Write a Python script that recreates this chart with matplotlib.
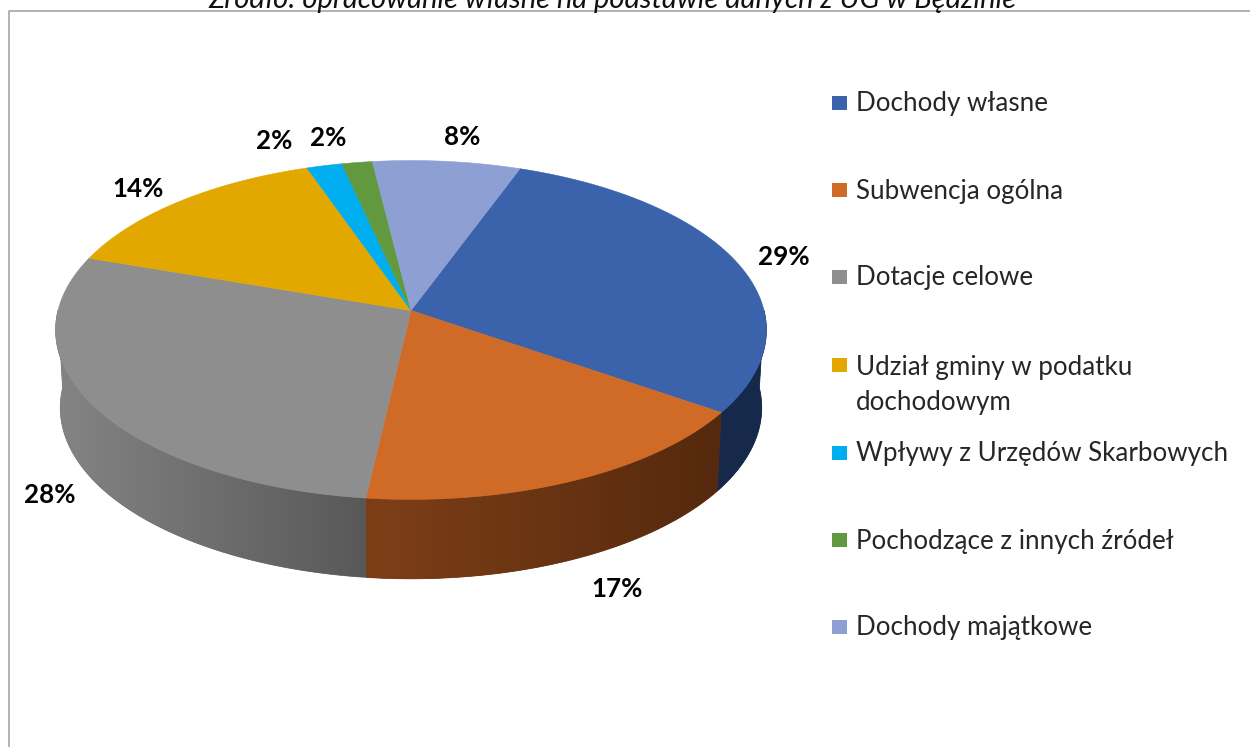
# ----------------------------------------
# 3D pie chart: budget income structure (Polish labels)
# ----------------------------------------
import numpy as np
import matplotlib
matplotlib.use("Agg")
import matplotlib.pyplot as plt
from matplotlib.colors import LinearSegmentedColormap
from matplotlib.patches import Polygon, Rectangle

plt.rcParams["font.family"] = ["Lato", "DejaVu Sans"]

# ----------------------------------------
# 1. Data
# ----------------------------------------
categories = [
    "Dochody własne",
    "Subwencja ogólna",
    "Dotacje celowe",
    "Udział gminy w podatku\ndochodowym",
    "Wpływy z Urzędów Skarbowych",
    "Pochodzące z innych źródeł",
    "Dochody majątkowe",
]
# unrounded shares estimated from the slice boundaries
values = [29.1, 17.15, 28.45, 14.45, 1.8, 1.55, 7.5]

# ----------------------------------------
# 2. Styles and layout (pixel coordinates)
# ----------------------------------------
top_colors = ["#3A63AB", "#CF6B27", "#8E8E8E", "#E2A800", "#00AEEF", "#62993E", "#8E9FD3"]
# only the three front slices show a wall
wall_left = {0: "#16294B", 1: "#7E3F17", 2: "#848484"}
wall_right = {0: "#16294B", 1: "#55290E", 2: "#585858"}

title = "Źródło: opracowanie własne na podstawie danych z UG w Będzinie"
label_xy = [(784, 257), (617, 589), (50, 495), (138, 189), (274, 141), (328, 138), (462, 137)]
legend_y = [104, 191, 278, 385, 454, 541, 628]

start_angle = 20.0   # clockwise from the top
apex_x, apex_y = 411, 310.5
persp = 0.115
scale_x, scale_y = 353, 167.2


def rim(angle_deg, sx=1.0, sy=1.0, y0=apex_y):
    # circle seen in perspective, angle runs clockwise from the top
    t = np.radians(angle_deg)
    x, d = np.sin(t), -np.cos(t)
    w = 1 - persp * d
    return apex_x + sx * scale_x * x / w, y0 + sy * scale_y * d / w


fig = plt.figure(figsize=(12.5, 7.47), dpi=100)
ax = fig.add_axes([0, 0, 1, 1])

# ----------------------------------------
# 3. Side walls, front half of the rim only
# ----------------------------------------
edges = start_angle + np.cumsum([0] + values) * 3.6
for i in [0, 2, 1]:
    a = np.linspace(max(edges[i], 90), min(edges[i + 1], 270), 120)
    tx, ty = rim(a)
    bx, by = rim(a, 0.987, 1.01, 388)
    pts = np.vstack([np.column_stack([tx, ty]), np.column_stack([bx, by])[::-1]])
    cmap = LinearSegmentedColormap.from_list("wall", [wall_left[i], wall_right[i]])
    # solid polygon underneath keeps the edge smooth, gradient goes on top
    ax.add_patch(Polygon(pts, closed=True, fc=cmap(0.5), ec=cmap(0.5), lw=0.5, zorder=2))
    left, right = pts[:, 0].min(), pts[:, 0].max()
    im = ax.imshow(np.linspace(0, 1, 256).reshape(1, -1), cmap=cmap, aspect="auto",
                   extent=[left, right, pts[:, 1].max(), pts[:, 1].min()], zorder=2.1)
    clip = Polygon(pts, closed=True, transform=ax.transData, fc="none", ec="none")
    ax.add_patch(clip)
    im.set_clip_path(clip)

# ----------------------------------------
# 4. Top face
# ----------------------------------------
for i in range(len(values)):
    a = np.linspace(edges[i], edges[i + 1], 120)
    tx, ty = rim(a)
    pts = np.vstack([[apex_x, apex_y], np.column_stack([tx, ty])])
    ax.add_patch(Polygon(pts, closed=True, fc=top_colors[i], ec=top_colors[i], lw=0.4, zorder=3))

# ----------------------------------------
# 5. Labels, legend, frame
# ----------------------------------------
for v, (x, y) in zip(values, label_xy):
    ax.text(x, y, f"{round(v)}%", ha="center", va="center", fontsize=18.7,
            fontweight="bold", color="#000000", zorder=5)

for name, y in zip(categories, legend_y):
    ax.text(856, y, name, ha="left", va="center", fontsize=18.7, color="#262626",
            linespacing=1.5, zorder=5)

# square sits beside the first line of a wrapped label
for name, col, y in zip(categories, top_colors, legend_y):
    sq_y = y - 20 if "\n" in name else y - 1
    ax.add_patch(Rectangle((832, sq_y - 7), 15, 14, fc=col, ec="none", zorder=5))

ax.plot([9, 9, 1250], [747, 10.5, 10.5], color="#A6A6A6", lw=1.2, zorder=1)
ax.text(612, -3, title, ha="center", va="center", fontsize=21, style="italic", color="#111111")

ax.set_xlim(0, 1250)
ax.set_ylim(747, 0)
ax.axis("off")
fig.savefig("out.png", dpi=100, facecolor="white")
plt.close(fig)
